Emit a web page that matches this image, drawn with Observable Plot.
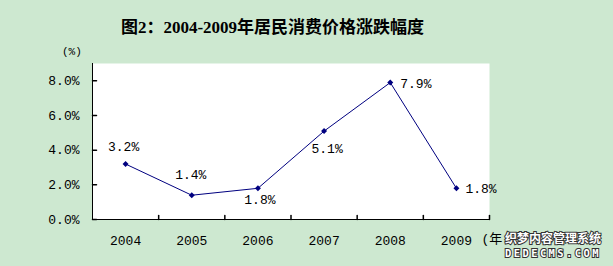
<!DOCTYPE html>
<html><head><meta charset="utf-8">
<script src="https://cdn.jsdelivr.net/npm/d3@7"></script>
<script src="https://cdn.jsdelivr.net/npm/@observablehq/plot@0.6"></script>
<style>
body{margin:0;background:#cde8d0;}
#wrap{position:relative;width:613px;height:266px;overflow:hidden;}
#chart{position:absolute;left:0;top:0;}
#title{position:absolute;left:0;width:545px;top:13px;line-height:20px;text-align:center;font:bold 17px "Liberation Serif","Noto Sans CJK SC";color:#000;}
#unit{position:absolute;left:62px;top:46px;line-height:12px;font:11px "Liberation Mono";color:#000;}
.wm{position:absolute;left:505px;font-weight:bold;color:#fff;-webkit-text-stroke:2px #333;paint-order:stroke fill;white-space:nowrap;}
#wm1{top:232px;line-height:12px;font-size:12px;font-family:"Noto Sans CJK SC";}
#wm2{top:248px;line-height:10px;font-size:10.5px;font-family:"DejaVu Sans Mono";letter-spacing:2.4px;}
</style></head>
<body><div id="wrap">
<div id="chart"></div>
<div id="title">图2：2004-2009年居民消费价格涨跌幅度</div>
<div id="unit">(%)</div>
<div class="wm" id="wm1">织梦内容管理系统</div>
<div class="wm" id="wm2">DEDECMS.COM</div>
</div>
<script>
const years = [2004, 2005, 2006, 2007, 2008, 2009];
const cpi = [3.2, 1.4, 1.8, 5.1, 7.9, 1.8];
const valueLabels = ["3.2%", "1.4%", "1.8%", "5.1%", "7.9%", "1.8%"];
const yTicks = [0, 2, 4, 6, 8];
const yTickLabels = ["0.0%", "2.0%", "4.0%", "6.0%", "8.0%"];
const xUnit = "(年";

const data = years.map((year, i) => ({year, value: cpi[i], label: valueLabels[i], i}));
const bounds = [years[0] - 0.5, ...years.map(y => y + 0.5)];
const tickShape = {draw(ctx, l) { ctx.moveTo(0, 0); ctx.lineTo(0, -l); }};
const ink = "#000080";
const font = "Liberation Mono";

const lbl = (idx, opts) => Plot.text(data.filter(d => d.i === idx), {x: "year", y: "value", text: "label", fontFamily: font, fontSize: 13, fill: "#000", ...opts});

const chart = Plot.plot({
  width: 613, height: 266,
  marginTop: 63, marginBottom: 47, marginLeft: 92, marginRight: 124,
  style: {background: "transparent", fontFamily: font, fontSize: "13px", color: "#000"},
  x: {domain: [bounds[0], bounds[bounds.length - 1]], label: null},
  y: {domain: [0, 9], label: null},
  marks: [
    Plot.frame({fill: "white", stroke: "none"}),
    Plot.axisY({ticks: yTicks, tickSize: 0, tickPadding: 13, label: null, tickFormat: (d) => yTickLabels[yTicks.indexOf(d)], fontSize: 13, fontFamily: font}),
    Plot.axisX({ticks: years, tickSize: 0, tickPadding: 16, label: null, tickFormat: d => String(d), fontSize: 13, fontFamily: font}),
    Plot.vector(bounds.slice(1), {x: d => d, y: 0, length: 4, rotate: 0, anchor: "start", shape: tickShape, stroke: "#000"}),
    Plot.vector(yTicks, {x: bounds[0], y: d => d, length: 4, rotate: 90, anchor: "start", shape: tickShape, stroke: "#000"}),
    Plot.ruleY([0], {stroke: "#000"}),
    Plot.ruleX([bounds[0]], {stroke: "#000"}),
    Plot.line(data, {x: "year", y: "value", stroke: ink, strokeWidth: 1}),
    Plot.dot(data, {x: "year", y: "value", symbol: "diamond2", r: 2.7, fill: ink, stroke: "none"}),
    lbl(0, {dx: -2, dy: -17}),
    lbl(1, {dx: -1, dy: -20}),
    lbl(2, {dx: 2, dy: 12}),
    lbl(3, {dx: 3, dy: 18}),
    lbl(4, {dx: 10, dy: 1, textAnchor: "start"}),
    lbl(5, {dx: 9, dy: 1, textAnchor: "start"}),
    Plot.text([xUnit], {x: years[years.length - 1], frameAnchor: "bottom", text: d => d, dx: 25, dy: 23, textAnchor: "start", fontFamily: "Liberation Mono, Noto Sans CJK SC", fontSize: 13, fill: "#000"})
  ]
});
document.getElementById("chart").appendChild(chart);
</script>
</body></html>
